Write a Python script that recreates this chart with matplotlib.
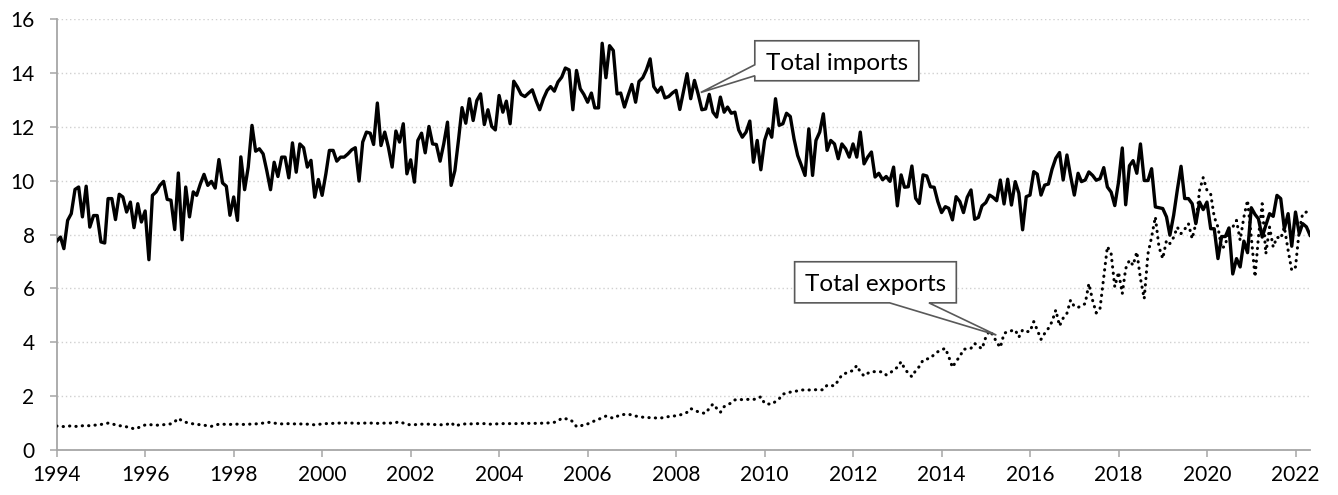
import matplotlib
matplotlib.use("Agg")
import matplotlib.pyplot as plt
import matplotlib.dates as mdates
import matplotlib.transforms as mtransforms
from matplotlib.patches import Polygon
import pandas as pd

plt.rcParams['font.family'] = ['Lato', 'DejaVu Sans']

# monthly values, Jan 1994 .. May 2022
total_imports = [
    7.76, 7.91, 7.48, 8.53, 8.78, 9.68, 9.77, 8.66, 9.8, 8.28, 8.71, 8.71,        # 1994
    7.73, 7.69, 9.34, 9.34, 8.56, 9.5, 9.4, 8.84, 9.21, 8.26, 9.15, 8.47,         # 1995
    8.88, 7.07, 9.46, 9.59, 9.83, 9.98, 9.31, 9.28, 8.19, 10.29, 7.81, 9.77,      # 1996
    8.66, 9.59, 9.46, 9.89, 10.24, 9.83, 9.98, 9.73, 10.79, 9.92, 9.8, 8.72,      # 1997
    9.4, 8.53, 10.89, 9.67, 10.51, 12.06, 11.1, 11.19, 11.0, 10.38, 9.67, 10.69,  # 1998
    10.16, 10.88, 10.88, 10.11, 11.41, 10.32, 11.37, 11.23, 10.51, 10.76, 9.39, 10.05,
    9.46, 10.26, 11.13, 11.13, 10.73, 10.88, 10.88, 11.0, 11.15, 11.23, 9.99, 11.44,
    11.81, 11.77, 11.35, 12.89, 11.31, 11.81, 11.25, 10.51, 11.85, 11.44, 12.12, 10.26,
    10.78, 9.95, 11.5, 11.77, 11.04, 12.02, 11.37, 11.35, 10.73, 11.37, 12.18, 9.83,
    10.38, 11.56, 12.72, 12.14, 13.05, 12.24, 12.98, 13.23, 12.09, 12.64, 12.02, 11.89,
    13.17, 12.55, 12.96, 12.12, 13.70, 13.48, 13.21, 13.13, 13.26, 13.38, 12.98, 12.64,
    13.05, 13.36, 13.5, 13.33, 13.67, 13.85, 14.19, 14.12, 12.64, 14.1, 13.42, 13.21,
    12.92, 13.26, 12.71, 12.71, 15.11, 13.83, 15.02, 14.84, 13.23, 13.26, 12.74, 13.17,
    13.58, 12.92, 13.69, 13.83, 14.12, 14.53, 13.5, 13.29, 13.48, 13.08, 13.13, 13.26,
    13.36, 12.65, 13.3, 13.98, 13.05, 13.73, 13.23, 12.64, 12.67, 13.21, 12.55, 12.37,
    13.11, 12.55, 12.74, 12.51, 12.55, 11.89, 11.62, 11.81, 12.22, 10.69, 11.5, 10.41,
    11.5, 11.93, 11.62, 13.05, 12.06, 12.12, 12.51, 12.39, 11.56, 10.94, 10.57, 10.2,
    11.93, 10.2, 11.5, 11.81, 12.49, 11.13, 11.5, 11.37, 10.82, 11.37, 11.19, 10.88,
    11.37, 10.88, 11.81, 10.63, 10.88, 11.07, 10.14, 10.28, 10.04, 10.16, 9.98, 10.51,
    9.07, 10.22, 9.76, 9.78, 10.55, 9.35, 9.16, 10.22, 10.18, 9.78, 9.76, 9.23,
    8.82, 9.04, 8.98, 8.55, 9.41, 9.23, 8.82, 9.39, 9.66, 8.57, 8.64, 9.07,
    9.19, 9.47, 9.39, 9.26, 10.03, 9.14, 10.06, 9.1, 9.97, 9.54, 8.18, 9.41,
    9.47, 10.34, 10.25, 9.47, 9.84, 9.88, 10.43, 10.84, 11.05, 10.03, 10.96, 10.18,
    9.47, 10.28, 9.97, 10.03, 10.33, 10.2, 10.02, 10.08, 10.49, 9.77, 9.58, 9.08,
    9.95, 11.22, 9.11, 10.56, 10.75, 10.28, 11.37, 10.01, 10.01, 10.45, 9.03, 9.0,
    8.97, 8.66, 7.98, 8.72, 9.65, 10.54, 9.34, 9.34, 9.15, 8.41, 9.21, 8.93,
    9.21, 8.22, 8.22, 7.11, 7.93, 7.93, 8.25, 6.54, 7.11, 6.8, 7.76, 7.33,
    9.0, 8.75, 8.59, 7.91, 8.35, 8.78, 8.68, 9.46, 9.34, 8.22, 8.78, 7.57,
    8.84, 8.04, 8.41, 8.29, 7.98,
]

total_exports = [
    0.89, 0.88, 0.87, 0.88, 0.9, 0.88, 0.87, 0.9, 0.91, 0.9, 0.92, 0.93,
    0.95, 0.97, 1.0, 0.98, 0.93, 0.9, 0.9, 0.86, 0.84, 0.78, 0.82, 0.88,
    0.93, 0.95, 0.93, 0.92, 0.93, 0.94, 0.96, 0.97, 1.05, 1.18, 1.08, 1.03,
    1.0, 0.97, 0.95, 0.94, 0.92, 0.9, 0.88, 0.92, 0.96, 0.96, 0.95, 0.95,
    0.96, 0.96, 0.95, 0.95, 0.96, 0.96, 0.97, 0.98, 1.0, 1.02, 1.03, 1.0,
    0.98, 0.97, 0.97, 0.98, 0.97, 0.97, 0.97, 0.96, 0.96, 0.96, 0.93, 0.95,
    0.97, 0.98, 0.98, 0.99, 1.0, 1.0, 1.0, 1.01, 1.0, 1.0, 0.99, 1.0,
    1.0, 1.0, 1.0, 0.99, 0.99, 1.0, 1.0, 1.0, 1.02, 1.05, 1.0, 0.96,
    0.93, 0.94, 0.95, 0.96, 0.96, 0.96, 0.95, 0.94, 0.94, 0.93, 0.96, 1.02,
    0.89, 0.93, 0.96, 0.97, 0.97, 0.97, 0.98, 0.98, 0.98, 0.96, 0.96, 0.97,
    0.97, 0.98, 0.98, 0.98, 0.98, 0.98, 0.99, 0.99, 0.99, 0.99, 0.99, 0.99,
    1.0, 1.0, 1.02, 1.03, 1.08, 1.18, 1.16, 1.15, 1.05, 0.87, 0.88, 0.95,
    0.97, 1.02, 1.09, 1.14, 1.2, 1.26, 1.22, 1.18, 1.25, 1.31, 1.32, 1.33,
    1.3, 1.26, 1.24, 1.22, 1.21, 1.2, 1.2, 1.18, 1.19, 1.22, 1.24, 1.26,
    1.27, 1.3, 1.34, 1.4, 1.54, 1.48, 1.42, 1.38, 1.36, 1.55, 1.71, 1.55,
    1.4, 1.61, 1.68, 1.75, 1.86, 1.88, 1.87, 1.88, 1.88, 1.88, 1.9, 1.98,
    1.73, 1.71, 1.7, 1.8, 1.9, 2.08, 2.1, 2.15, 2.17, 2.2, 2.23, 2.23,
    2.23, 2.23, 2.24, 2.23, 2.24, 2.41, 2.4, 2.38, 2.58, 2.79, 2.85, 2.91,
    2.95, 3.14, 2.9, 2.75, 2.85, 2.91, 2.91, 2.91, 2.9, 2.79, 2.85, 2.98,
    3.07, 3.28, 3.03, 2.85, 2.72, 2.95, 3.1, 3.34, 3.38, 3.41, 3.55, 3.65,
    3.72, 3.78, 3.47, 3.07, 3.3, 3.47, 3.74, 3.76, 3.78, 3.96, 3.85, 3.76,
    4.19, 4.43, 4.27, 4.0, 3.81, 4.33, 4.4, 4.43, 4.46, 4.19, 4.46, 4.4,
    4.4, 4.77, 4.46, 4.11, 4.33, 4.52, 4.77, 5.2, 4.61, 4.9, 5.08, 5.57,
    5.33, 5.3, 5.35, 5.44, 6.18, 5.56, 5.09, 5.25, 6.43, 7.56, 7.29, 6.06,
    6.61, 5.81, 6.74, 7.05, 6.86, 7.36, 6.37, 5.62, 7.29, 7.91, 8.66, 7.54,
    7.11, 7.79, 7.67, 7.9, 8.28, 8.04, 8.2, 8.41, 7.85, 8.41, 9.65, 10.12,
    9.65, 9.5, 8.66, 8.28, 7.48, 7.6, 8.26, 8.28, 8.53, 7.79, 8.66, 9.28,
    7.91, 6.43, 7.91, 9.15, 7.29, 8.28, 7.54, 7.91, 7.85, 8.28, 7.42, 6.67,
    6.8, 8.16, 8.78, 8.84, 8.9,
]

dates = pd.date_range('1994-01-01', periods=len(total_imports), freq='MS')

fig = plt.figure(figsize=(13.38, 4.95), dpi=100)
ax = fig.add_axes([0.0424, 0.0909, 0.9367, 0.8701])

ax.plot(dates, total_imports, color='black', lw=2.4, solid_joinstyle='round', zorder=3)
ax.plot(dates, total_exports, color='black', lw=2.2, linestyle=(0, (0.1, 2.0)),
        dash_capstyle='round', zorder=3)

ax.set_ylim(0, 16)
ax.set_yticks(range(0, 17, 2))
ax.set_xlim(dates[0], dates[-1])
ax.xaxis.set_major_locator(mdates.YearLocator(2))
ax.xaxis.set_major_formatter(mdates.DateFormatter('%Y'))

ax.yaxis.grid(True, color='#D0D0D0', linestyle=(0, (1, 2)), lw=1.0)
ax.set_axisbelow(True)
for s in ['top', 'right']:
    ax.spines[s].set_visible(False)
for s in ['left', 'bottom']:
    ax.spines[s].set_color('#A6A6A6')
    ax.spines[s].set_linewidth(1.3)
ax.tick_params(axis='both', direction='out', length=5, width=1.1, color='#A6A6A6',
               labelsize=15, labelcolor='black')
ax.tick_params(axis='y', pad=11)
ax.tick_params(axis='x', pad=6)


def callout(x, y, verts, text_pos, label):
    # verts / text_pos are pixel offsets from the pointed-at data point (y downwards)
    trans = mtransforms.Affine2D().scale(1, -1) + \
        mtransforms.ScaledTranslation(mdates.date2num(x), y, ax.transData)
    ax.add_patch(Polygon(verts, closed=True, transform=trans, fc='white', ec='#595959',
                         lw=1.2, joinstyle='miter', zorder=4, clip_on=False))
    ax.text(text_pos[0], text_pos[1], label, transform=trans, ha='center', va='baseline',
            fontsize=17.5, color='black', zorder=5)


i_imp = 174
callout(dates[i_imp], total_imports[i_imp],
        [(56.7, -53.1), (220.7, -53.1), (220.7, -13.1), (56.7, -13.1),
         (56.7, -18.1), (2.7, -1.4), (56.7, -29.1)],
        (139.2, -23.4), 'Total imports')

i_exp = 254
callout(dates[i_exp], total_exports[i_exp],
        [(-198.3, -73.3), (-36.6, -73.3), (-36.6, -32.2), (-64.0, -32.2),
         (3.4, 0.0), (-103.3, -32.2), (-198.3, -32.2)],
        (-117.5, -44.4), 'Total exports')

fig.savefig('out.png', dpi=100)
